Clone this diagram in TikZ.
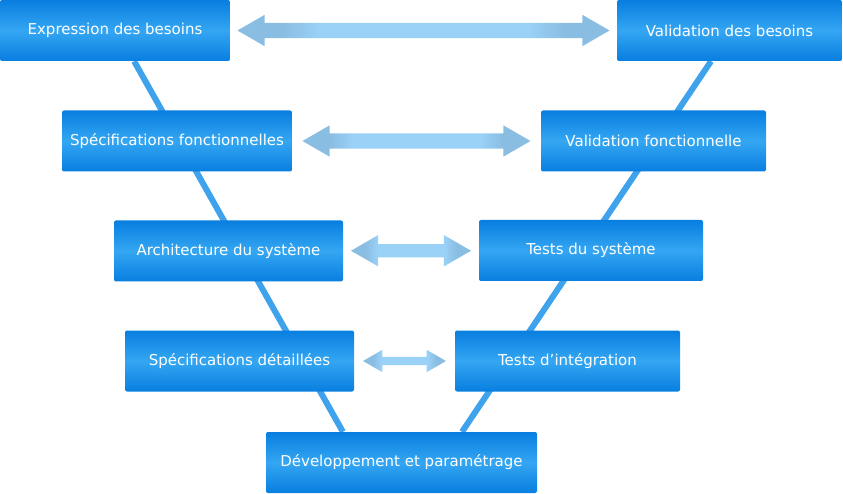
\documentclass[tikz,border=0pt]{standalone}
\usepackage{fontspec}
\setmainfont{DejaVu Sans}
\usetikzlibrary{shapes.arrows,backgrounds,calc}
\definecolor{boxdark}{RGB}{8,126,224}
\definecolor{boxlight}{RGB}{52,166,242}
\definecolor{vline}{RGB}{62,162,236}
\definecolor{arrend}{RGB}{138,189,226}
\definecolor{arrmid}{RGB}{154,209,247}
\pgfdeclarehorizontalshading{flecheshade}{100bp}{color(0bp)=(arrend); color(25bp)=(arrend);
  color(31bp)=(arrend); color(36bp)=(arrmid); color(64bp)=(arrmid); color(69bp)=(arrend);
  color(75bp)=(arrend); color(100bp)=(arrend)}

\begin{document}
\begin{tikzpicture}[x=1pt,y=-1pt,
  etape/.style={rectangle,rounded corners=2pt,minimum height=61pt,inner sep=0pt,
    top color=boxdark,bottom color=boxdark,middle color=boxlight,
    text=white,font=\fontsize{15}{18}\selectfont},
  fleche/.style={double arrow,inner xsep=0pt,double arrow tip angle=60,
    shading=flecheshade}]
  \useasboundingbox (0,0) rectangle (843,494);
  % left branch
  \node[etape,minimum width=230pt] (1) at (115,30.5) {Expression des besoins};
  \node[etape,minimum width=230pt] (2) at (177,141) {Spécifications fonctionnelles};
  \node[etape,minimum width=229pt] (3) at (228.5,251) {Architecture du système};
  \node[etape,minimum width=229pt] (4) at (239.5,361) {Spécifications détaillées};
  % bottom
  \node[etape,minimum width=271pt] (5) at (401.5,462.5) {Développement et paramétrage};
  % right branch
  \node[etape,minimum width=225pt] (6) at (567.5,361) {Tests d’intégration};
  \node[etape,minimum width=224pt] (7) at (591,250.5) {Tests du système};
  \node[etape,minimum width=225pt] (8) at (653.5,141) {Validation fonctionnelle};
  \node[etape,minimum width=225pt] (9) at (729.5,30.5) {Validation des besoins};
  % the V behind the boxes
  \begin{scope}[on background layer]
    \draw[vline,line width=6pt] ($(1.south west)!0.583!(1.south east)$) -- ($(5.north west)!0.284!(5.north east)$);
    \draw[vline,line width=6pt] ($(9.south west)!0.418!(9.south east)$) -- ($(5.north west)!0.723!(5.north east)$);
  \end{scope}
  % arrows between the levels
  \node[fleche,minimum height=372pt,inner ysep=7.5pt,double arrow head extend=8pt] (a1) at ($(1.east)!0.5!(9.west)$) {};
  \node[fleche,minimum height=228pt,inner ysep=7.5pt,double arrow head extend=8pt] (a2) at ($(2.east)!0.5!(8.west)$) {};
  \node[fleche,minimum height=120pt,inner ysep=6.5pt,double arrow head extend=9pt] (a3) at ($(3.east)!0.5!(7.west)$) {};
  \node[fleche,minimum height=83pt,inner ysep=4pt,double arrow head extend=7pt] (a4) at ($(4.east)!0.5!(6.west)$) {};
\end{tikzpicture}
\end{document}
